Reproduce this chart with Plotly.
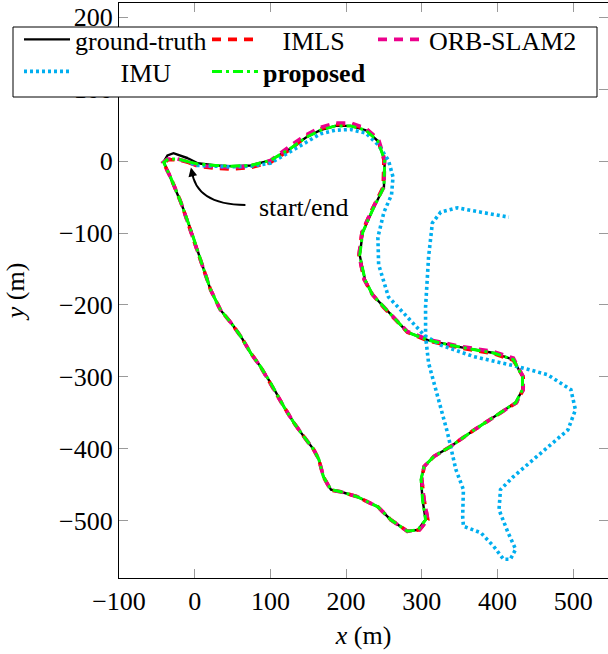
import plotly.graph_objects as go

# ---------------- data (metres) ----------------
gt_x = [-9, 4, 28, 48, 74, 100, 127, 147, 166, 186, 206, 226, 242, 251, 250, 235, 222, 218, 225, 235,
        250, 281, 308, 347, 395, 421, 433, 433, 424, 395, 369, 338, 316, 303, 299, 301, 305, 295, 281, 259,
        242, 215, 193, 180, 170, 164, 157, 144, 131, 118, 100, 87, 74, 61, 48, 34, 21, 8, -5, -18,
        -32, -41, -36, -28, -9]
gt_y = [4, -3, -6, -7, -6, 1, 18, 33, 43, 49, 49, 43, 28, 1, -36, -68, -99, -131, -165, -186,
        -203, -238, -249, -258, -267, -276, -300, -318, -336, -356, -374, -397, -411, -425, -443, -471, -499, -513, -515, -499,
        -481, -467, -460, -457, -439, -415, -401, -383, -364, -342, -308, -286, -267, -244, -225, -207, -179, -138, -96, -58,
        -22, -1, 8, 11, 4]

imls_x = [-8, 4, 28, 48, 74, 100, 127, 147, 166, 186, 206, 226, 242, 250, 249, 234, 221, 217, 224, 235,
          250, 281, 308, 347, 395, 421, 434, 434, 425, 395, 369, 338, 316, 303, 300, 303, 308, 297, 281, 259,
          242, 215, 193, 180, 170, 164, 157, 144, 131, 118, 100, 87, 74, 61, 48, 34, 21, 8, -5, -18,
          -32, -41, -35, -22, -8]
imls_y = [-2, -7, -10, -11, -9, -2, 17, 34, 45, 51, 51, 45, 30, 2, -36, -68, -99, -131, -165, -186,
          -204, -238, -250, -259, -268, -277, -300, -318, -336, -356, -374, -397, -411, -425, -443, -471, -499, -513, -515, -499,
          -481, -467, -460, -458, -439, -415, -401, -383, -364, -342, -308, -286, -267, -244, -225, -207, -179, -138, -96, -58,
          -22, -3, 2, 2, -2]

orb_x = [-8, 4, 28, 48, 74, 100, 126, 146, 166, 186, 206, 226, 243, 251, 250, 234, 221, 217, 224, 235,
         250, 281, 308, 347, 395, 421, 434, 434, 425, 395, 369, 338, 316, 303, 300, 303, 308, 297, 281, 259,
         242, 215, 193, 180, 170, 164, 157, 144, 131, 118, 100, 87, 74, 61, 48, 34, 21, 8, -5, -18,
         -32, -42, -36, -23, -8]
orb_y = [-1, -6, -8, -9, -7, 1, 21, 36, 47, 53, 53, 46, 30, 2, -36, -68, -99, -131, -165, -186,
         -203, -237, -248, -257, -265, -274, -300, -318, -336, -356, -374, -397, -411, -425, -443, -471, -499, -513, -515, -499,
         -481, -467, -460, -458, -439, -415, -401, -383, -364, -342, -308, -286, -267, -244, -225, -207, -179, -138, -96, -58,
         -22, -2, 3, 3, -1]

prop_x = [-8, 4, 28, 48, 74, 100, 127, 147, 166, 186, 206, 226, 242, 251, 250, 235, 222, 218, 225, 235,
          250, 281, 308, 347, 395, 421, 433, 433, 424, 395, 369, 338, 316, 303, 299, 301, 305, 295, 281, 259,
          242, 215, 193, 180, 170, 164, 157, 144, 131, 118, 100, 87, 74, 61, 48, 34, 21, 8, -5, -18,
          -32, -41, -35, -22, -8]
prop_y = [-1, -4, -6, -7, -6, 1, 18, 33, 43, 49, 49, 43, 28, 1, -36, -68, -99, -131, -165, -186,
          -203, -238, -249, -258, -267, -276, -300, -318, -336, -356, -374, -397, -411, -425, -443, -471, -499, -513, -515, -499,
          -481, -467, -460, -457, -439, -415, -401, -383, -364, -342, -308, -286, -267, -244, -225, -207, -179, -138, -96, -58,
          -22, -2, 3, 3, -1]

imu_x = [-5, 4, 48, 74, 100, 127, 147, 166, 186, 206, 226, 243, 256, 262, 260, 250, 242, 243, 256, 281,
         303, 325, 369, 427, 466, 497, 503, 493, 457, 421, 404, 402, 414, 424, 417, 408, 395, 378, 355, 354,
         355, 345, 334, 321, 309, 305, 305, 309, 314, 325, 347, 378, 415]
imu_y = [-3, -6, -8, -7, -3, 13, 26, 38, 43, 44, 39, 22, 1, -22, -47, -71, -106, -144, -189, -217,
         -242, -256, -272, -286, -297, -318, -346, -374, -406, -439, -457, -485, -517, -540, -554, -554, -536, -517, -508, -494,
         -457, -429, -378, -328, -281, -244, -203, -133, -86, -71, -65, -71, -78]

x_ticks = [-100, 0, 100, 200, 300, 400, 500]
y_ticks = [-500, -400, -300, -200, -100, 0, 100, 200]

FONT = "Liberation Serif, Times New Roman, DejaVu Serif, serif"
NB = "\u00a0"
W, H = 608, 654
M_T, M_B = 3, 76
PH = H - M_T - M_B


def px_y(py):
    """pixel row -> paper y"""
    return 1 - (py - M_T) / PH


fig = go.Figure()

series = [
    ("ground-truth", gt_x, gt_y, dict(color="black", width=2.4, dash="solid"), "legend"),
    (NB * 3 + "IMLS", imls_x, imls_y, dict(color="#FF0000", width=3.6, dash="9px,7px"), "legend"),
    ("ORB-SLAM2", orb_x, orb_y, dict(color="#EC008C", width=3.6, dash="9px,7px"), "legend2"),
    (NB * 7 + "IMU", imu_x, imu_y, dict(color="#00AEEF", width=3.6, dash="3px,3px"), "legend3"),
    ("<b>proposed</b>", prop_x, prop_y, dict(color="#00FF00", width=3.0, dash="10px,4px,3px,4px"), "legend3"),
]
for name, xs, ys, ln, lg in series:
    fig.add_trace(go.Scatter(x=xs, y=ys, mode="lines", name=name, line=ln, legend=lg))

# start/end label with curved arrow
label_pos = (144, -64)
curve_start = (67, -61)
curve_ctrl = (1, -61)
curve_end = (-4, -12)
arrow_tail = (-2.5, -21)

fig.add_shape(type="path",
              path=f"M {curve_start[0]},{curve_start[1]} Q {curve_ctrl[0]},{curve_ctrl[1]} {curve_end[0]},{curve_end[1]}",
              xref="x", yref="y", line=dict(color="black", width=2))
fig.add_annotation(x=curve_end[0] - 1, y=curve_end[1] + 3, ax=arrow_tail[0], ay=arrow_tail[1],
                   xref="x", yref="y", axref="x", ayref="y", text="", showarrow=True,
                   arrowhead=2, arrowsize=1.1, arrowwidth=1.6, arrowcolor="black")
fig.add_annotation(x=label_pos[0], y=label_pos[1], xref="x", yref="y", text="start/end",
                   showarrow=False, font=dict(family=FONT, size=26, color="black"))

# legend frame (white box drawn over the plot, the legend entries sit on it)
fig.add_shape(type="rect", xref="paper", yref="paper", layer="above",
              x0=13 / W, x1=597 / W, y0=px_y(97), y1=px_y(27),
              fillcolor="white", line=dict(color="black", width=1))

axis_common = dict(showgrid=False, zeroline=False, showline=True, linecolor="black", linewidth=1.3,
                   mirror="allticks", ticks="inside", ticklen=9, tickwidth=1.2, tickcolor="#9a9a9a",
                   tickfont=dict(family=FONT, size=26, color="black"))

leg_common = dict(orientation="h", xanchor="left", yanchor="top",
                  bgcolor="rgba(0,0,0,0)", borderwidth=0,
                  font=dict(family=FONT, size=26, color="black"),
                  itemwidth=46, tracegroupgap=0)

ROW1, ROW2 = 43, 75      # legend row centres (px)
OFF = 27                 # legend top -> row centre (px)

fig.update_layout(
    width=W, height=H,
    margin=dict(l=0, r=0, t=M_T, b=M_B, autoexpand=False),
    paper_bgcolor="white", plot_bgcolor="white",
    font=dict(family=FONT, size=26, color="black"),
    xaxis=dict(range=[-100, 546], domain=[119 / W, 1], tickvals=x_ticks,
               title=dict(text="<i>x</i> (m)", font=dict(family=FONT, size=26, color="black"), standoff=10),
               **axis_common),
    yaxis=dict(range=[-580, 220], tickvals=y_ticks,
               title=dict(text="<i>y</i> (m)", font=dict(family=FONT, size=26, color="black"), standoff=26),
               **axis_common),
    legend=dict(x=(22 - 3) / W, y=px_y(ROW1 - OFF), entrywidth=127, entrywidthmode="pixels", **leg_common),
    legend2=dict(x=(378 - 5) / W, y=px_y(ROW1 - OFF), **leg_common),
    legend3=dict(x=(22 - 3) / W, y=px_y(ROW2 - OFF), entrywidth=127, entrywidthmode="pixels", **leg_common),
    showlegend=True,
)

fig.write_html("out.html", config={"displayModeBar": False},
               post_script="document.body.style.margin='0';")
